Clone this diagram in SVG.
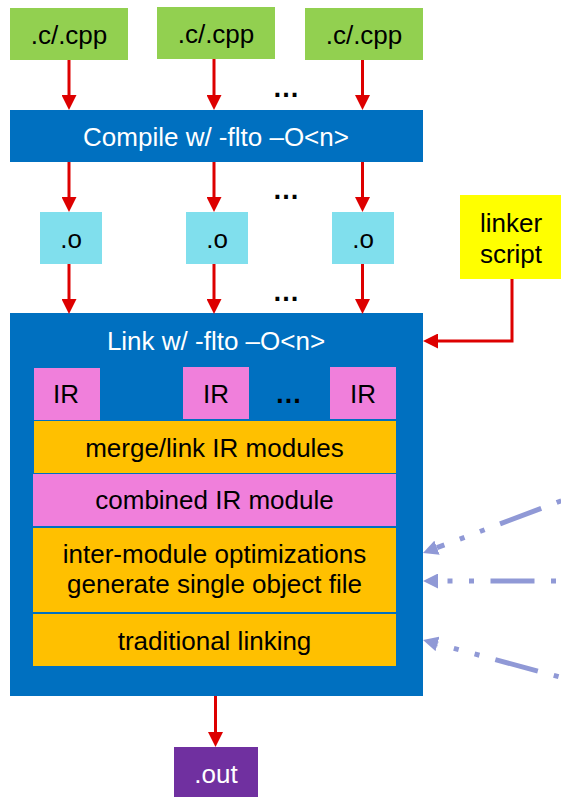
<svg xmlns="http://www.w3.org/2000/svg" width="561" height="797" viewBox="0 0 561 797">
  <style>
    text { font-family: "Liberation Sans", Arial, sans-serif; font-size: 26px; text-anchor: middle; fill: #000; }
    .w { fill: #fff; }
    .dots { font-weight: bold; font-size: 27px; }
    .src { fill: #92d050; }
    .obj { fill: #80dfed; }
    .blue { fill: #0070c0; }
    .ir { fill: #f07fdb; }
    .stage { fill: #ffc000; }
    .red { stroke: #dd0000; stroke-width: 3; fill: none; marker-end: url(#redHead); }
    .feed { stroke: #9099d6; stroke-width: 5; fill: none; stroke-dasharray: 44 16.5 5 16.5 5 16.5; stroke-dashoffset: 77; marker-end: url(#blueHead); }
  </style>
  <defs>
    <marker id="redHead" markerUnits="userSpaceOnUse" viewBox="0 0 15 15" markerWidth="15" markerHeight="15" refX="0" refY="7.5" orient="auto">
      <path d="M0,0 L15,7.5 L0,15 Z" fill="#dd0000"/>
    </marker>
    <marker id="blueHead" markerUnits="userSpaceOnUse" viewBox="0 0 15 15" markerWidth="15" markerHeight="15" refX="0" refY="7.5" orient="auto">
      <path d="M0,0 L15,7.5 L0,15 Z" fill="#9099d6"/>
    </marker>
  </defs>

  <g id="src1"><rect class="src" x="10" y="8" width="118" height="52"/><text x="69" y="44">.c/.cpp</text></g>
  <g id="src2"><rect class="src" x="157" y="7" width="118" height="52"/><text x="216" y="43">.c/.cpp</text></g>
  <g id="src3"><rect class="src" x="305" y="8" width="118" height="52"/><text x="364" y="44">.c/.cpp</text></g>

  <g id="compile"><rect class="blue" x="10" y="110" width="413" height="52"/><text class="w" x="216" y="146">Compile w/ -flto –O&lt;n&gt;</text></g>

  <g id="obj1"><rect class="obj" x="40" y="212" width="62" height="52"/><text x="71" y="248">.o</text></g>
  <g id="obj2"><rect class="obj" x="186" y="212" width="62" height="52"/><text x="217" y="248">.o</text></g>
  <g id="obj3"><rect class="obj" x="332" y="212" width="62" height="52"/><text x="363" y="248">.o</text></g>

  <g id="linkerScript"><rect x="460" y="195" width="101" height="84" fill="#ffff00"/><text x="511" y="232">linker</text><text x="511" y="263">script</text></g>

  <g id="link">
    <rect class="blue" x="10" y="313" width="413" height="383"/>
    <text class="w" x="216" y="350">Link w/ -flto –O&lt;n&gt;</text>
    <g id="ir1"><rect class="ir" x="34" y="368" width="66" height="52"/><text x="66" y="403">IR</text></g>
    <g id="ir2"><rect class="ir" x="183" y="367" width="66" height="52"/><text x="216" y="403">IR</text></g>
    <g id="ir3"><rect class="ir" x="330" y="367" width="66" height="52"/><text x="363" y="403">IR</text></g>
    <text class="dots" x="288.5" y="403">…</text>
    <g id="merge"><rect class="stage" x="34" y="421" width="362" height="52"/><text x="214.5" y="457">merge/link IR modules</text></g>
    <g id="combined"><rect class="ir" x="33" y="474" width="363" height="52"/><text x="214.5" y="509">combined IR module</text></g>
    <g id="optimize"><rect class="stage" x="33" y="528" width="363" height="84"/><text x="214.5" y="563">inter-module optimizations</text><text x="214.5" y="593">generate single object file</text></g>
    <g id="traditional"><rect class="stage" x="33" y="614" width="363" height="52"/><text x="214.5" y="650">traditional linking</text></g>
  </g>

  <g id="out"><rect x="174" y="747" width="84" height="50" fill="#7030a0"/><text class="w" x="216" y="783">.out</text></g>

  <g id="ellipses">
    <text class="dots" x="286" y="97">…</text>
    <text class="dots" x="286" y="199">…</text>
    <text class="dots" x="286" y="301">…</text>
  </g>

  <g id="connectors">
    <path class="red" d="M69,60 V95"/>
    <path class="red" d="M214,59 V95"/>
    <path class="red" d="M362.5,60 V95"/>
    <path class="red" d="M69,162 V197"/>
    <path class="red" d="M214,162 V197"/>
    <path class="red" d="M362.5,162 V197"/>
    <path class="red" d="M69,264 V299"/>
    <path class="red" d="M214,264 V299"/>
    <path class="red" d="M362.5,264 V299"/>
    <path class="red" d="M512,279 V341 H438"/>
    <path class="red" d="M215.5,696 V732"/>
    <path class="feed" d="M566,499 L437,547.7"/>
    <path class="feed" d="M561,581 L438,581"/>
    <path class="feed" d="M563.4,678 L437.5,643.9"/>
  </g>
</svg>
